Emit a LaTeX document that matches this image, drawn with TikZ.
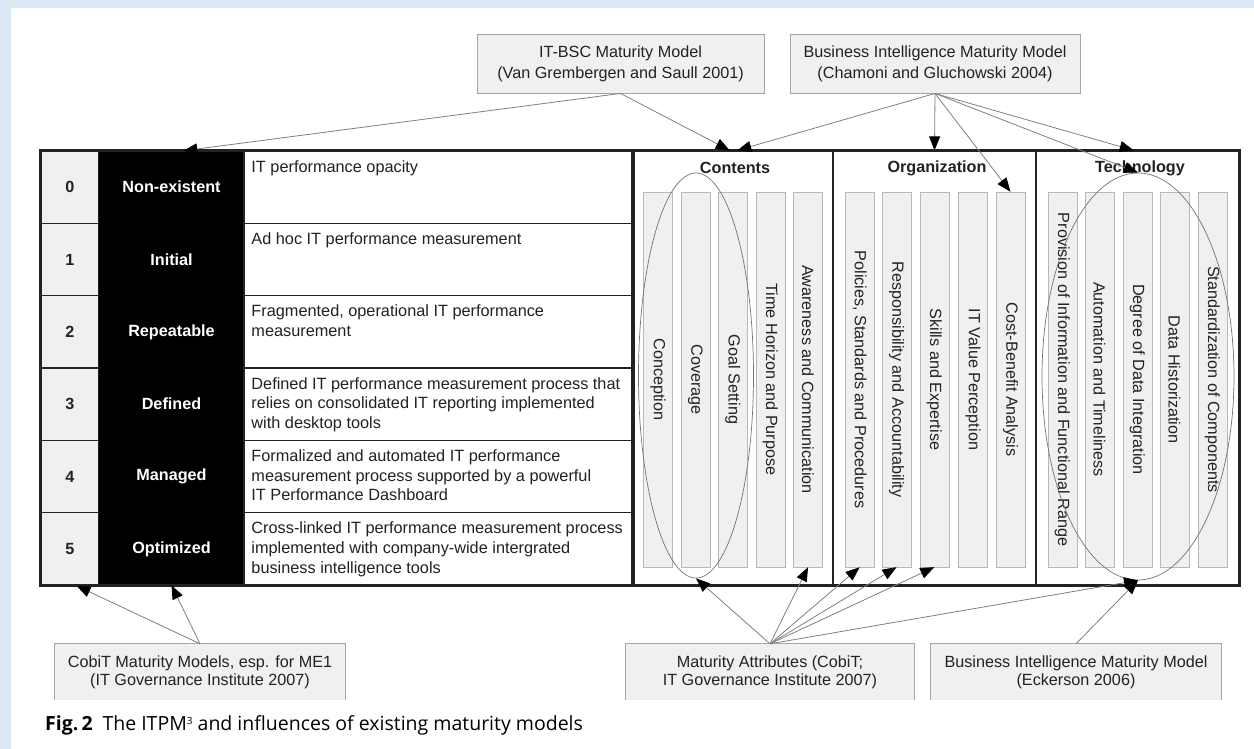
\documentclass[tikz,border=0pt]{standalone}
\usepackage{fontspec}
\setmainfont{Liberation Sans}
\newfontfamily\capfont{Open Sans}
\usetikzlibrary{shapes.geometric,arrows.meta}
\definecolor{pageblue}{RGB}{221,232,245}
\definecolor{cellgray}{RGB}{240,240,240}
\definecolor{ink}{RGB}{34,34,34}

\begin{document}
\begin{tikzpicture}
		[x=1pt, y=-1pt, text=ink, font=\fontsize{16.2}{20}\selectfont,
		num/.style= {draw=ink, line width=1.5pt, fill=cellgray, minimum width=58pt, minimum height=72.33pt, inner sep=0pt, font=\fontsize{16.2}{20}\selectfont\bfseries},
		lvl/.style= {fill=black, text=white, minimum width=145pt, minimum height=72.33pt, inner sep=0pt, font=\fontsize{16.2}{20}\selectfont\bfseries},
		desc/.style= {draw=ink, line width=1.5pt, minimum width=388pt, minimum height=72.33pt, inner sep=0pt},
		txt/.style= {anchor=north west, align=left, inner xsep=8pt, inner ysep=10pt, font=\fontsize{16.3}{19.7}\selectfont},
		sec/.style= {draw=ink, line width=1.2pt, minimum width=203pt, minimum height=434pt, inner sep=0pt},
		hd/.style= {font=\fontsize{16.2}{20}\selectfont\bfseries},
		bar/.style= {draw=black!28, fill=cellgray, minimum width=29pt, minimum height=375pt, inner sep=0pt},
		ell/.style= {draw=black!55, ellipse, line width=0.7pt, inner sep=0pt},
		src/.style= {draw=black!35, fill=cellgray, line width=0.9pt, align=center, inner sep=0pt, minimum height=59pt, font=\fontsize{16.2}{21}\selectfont},
		srcb/.style= {fill=cellgray, align=center, inner sep=0pt, minimum width=290pt, minimum height=56pt, font=\fontsize{16.2}{18}\selectfont},
		side/.style= {draw=black!35, line width=0.9pt},
		arr/.style= {draw=black!50, line width=0.8pt, -{Triangle[length=14pt,width=11pt,color=black]}},
		frame/.style= {draw=ink, line width=2.5pt}]

		\fill[pageblue] (0,0) rectangle (1254,749);
		\fill[white] (11,8) rectangle (1254,749);
		\useasboundingbox (0,0) rectangle (1254,749);

		\node[num] (l0) at (70,187.17) {0};
		\node[lvl] (m0) at (171.5,187.17) {Non-existent};
		\node[desc] (d0) at (438,187.17) {};
		\node[txt] (t0) at (d0.north west) {IT performance opacity};

		\node[num] (l1) at (70,259.5) {1};
		\node[lvl] (m1) at (171.5,259.5) {Initial};
		\node[desc] (d1) at (438,259.5) {};
		\node[txt] (t1) at (d1.north west) {Ad hoc IT performance measurement};

		\node[num] (l2) at (70,331.83) {2};
		\node[lvl] (m2) at (171.5,331.83) {Repeatable};
		\node[desc] (d2) at (438,331.83) {};
		\node[txt] (t2) at (d2.north west) {Fragmented, operational IT performance\\measurement};

		\node[num] (l3) at (70,404.17) {3};
		\node[lvl] (m3) at (171.5,404.17) {Defined};
		\node[desc] (d3) at (438,404.17) {};
		\node[txt] (t3) at (d3.north west) {Defined IT performance measurement process that\\relies on consolidated IT reporting implemented\\with desktop tools};

		\node[num] (l4) at (70,476.5) {4};
		\node[lvl] (m4) at (171.5,476.5) {Managed};
		\node[desc] (d4) at (438,476.5) {};
		\node[txt] (t4) at (d4.north west) {Formalized and automated IT performance\\measurement process supported by a powerful\\IT Performance Dashboard};

		\node[num] (l5) at (70,548.83) {5};
		\node[lvl] (m5) at (171.5,548.83) {Optimized};
		\node[desc] (d5) at (438,548.83) {};
		\node[txt] (t5) at (d5.north west) {Cross-linked IT performance measurement process\\implemented with company-wide intergrated\\business intelligence tools};

		\draw[frame] (l0.north west) rectangle (d5.south east);

		\node[sec, minimum width=199pt] (cont) at (733.5,368) {};
		\node[sec] (org) at (934.5,368) {};
		\node[sec] (tech) at (1137.5,368) {};
		\draw[frame] (cont.north west) rectangle (tech.south east);

		\node[hd] (hcont) at (735,168) {Contents};
		\node[hd] (horg) at (937,168) {Organization};
		\node[hd] (htech) at (1140,168) {Technology};

		\node[bar] (cb1) at (658,379.5) {\rotatebox{-90}{Conception}};
		\node[bar] (cb2) at (695.3,379.5) {\rotatebox{-90}{Coverage}};
		\node[bar] (cb3) at (732.7,379.5) {\rotatebox{-90}{Goal Setting}};
		\node[bar] (cb4) at (770.3,379.5) {\rotatebox{-90}{Time Horizon and Purpose}};
		\node[bar] (cb5) at (808,379.5) {\rotatebox{-90}{Awareness and Communication}};

		\node[bar] (ob1) at (859.6,379.5) {\rotatebox{-90}{Policies, Standards and Procedures}};
		\node[bar] (ob2) at (896.5,379.5) {\rotatebox{-90}{Responsibility and Accountability}};
		\node[bar] (ob3) at (934.3,379.5) {\rotatebox{-90}{Skills and Expertise}};
		\node[bar] (ob4) at (973,379.5) {\rotatebox{-90}{IT Value Perception}};
		\node[bar] (ob5) at (1010.5,379.5) {\rotatebox{-90}{Cost-Benefit Analysis}};

		\node[bar] (tb1) at (1062.2,379.5) {\rotatebox{-90}{Provision of Information and Functional Range}};
		\node[bar] (tb2) at (1099.5,379.5) {\rotatebox{-90}{Automation and Timeliness}};
		\node[bar] (tb3) at (1137.2,379.5) {\rotatebox{-90}{Degree of Data Integration}};
		\node[bar] (tb4) at (1174.5,379.5) {\rotatebox{-90}{Data Historization}};
		\node[bar] (tb5) at (1212.3,379.5) {\rotatebox{-90}{Standardization of Components}};

		\node[ell, minimum width=115pt, minimum height=405pt] (econt) at (696,375.5) {};
		\node[ell, minimum width=192pt, minimum height=407pt] (etech) at (1138,376.5) {};

		\node[src, minimum width=287pt] (itbsc) at (620.5,63.5) {IT-BSC Maturity Model\\(Van Grembergen and Saull 2001)};
		\node[src, minimum width=290pt] (bi) at (935,63.5) {Business Intelligence Maturity Model\\(Chamoni and Gluchowski 2004)};

		\node[srcb] (cobit) at (200,672) {CobiT Maturity Models, esp. for ME1\\(IT Governance Institute 2007)};
		\node[srcb, minimum width=288pt] (mattr) at (770,672) {Maturity Attributes (CobiT;\\IT Governance Institute 2007)};
		\node[srcb] (eck) at (1076,672) {Business Intelligence Maturity Model\\(Eckerson 2006)};
		\draw[side] (cobit.south west) |- (cobit.north east) -- (cobit.south east);
		\draw[side] (mattr.south west) |- (mattr.north east) -- (mattr.south east);
		\draw[side] (eck.south west) |- (eck.north east) -- (eck.south east);

		\path (itbsc.south)
			edge [arr]	(m0.72)
			edge [arr]	(cont.91)
		;

		\path (bi.south)
			edge [arr]	(cont.89)
			edge [arr]	(org.north)
			edge [arr]	(ob5.north)
			edge [arr]	(etech.north)
			edge [arr]	(tech.91)
		;

		\path (cobit.north)
			edge [arr]	(l5.-80)
			edge [arr]	(m5.south)
		;

		\path (mattr.north)
			edge [arr]	(econt.south)
			edge [arr]	(cb5.south)
			edge [arr]	(ob1.south)
			edge [arr]	(ob2.south)
			edge [arr]	(ob3.south)
			edge [arr]	(etech.south)
		;

		\path (eck.north)
			edge [arr]	(etech.south)
		;

		\node[anchor=west, inner sep=0pt, text=black, font=\capfont\fontsize{19.5}{23}\selectfont] (cap) at (45,725) {\textbf{Fig.\,2}\enspace The ITPM\raisebox{6pt}{\fontsize{10}{10}\selectfont 3} and influences of existing maturity models};

	\end{tikzpicture}
\end{document}
